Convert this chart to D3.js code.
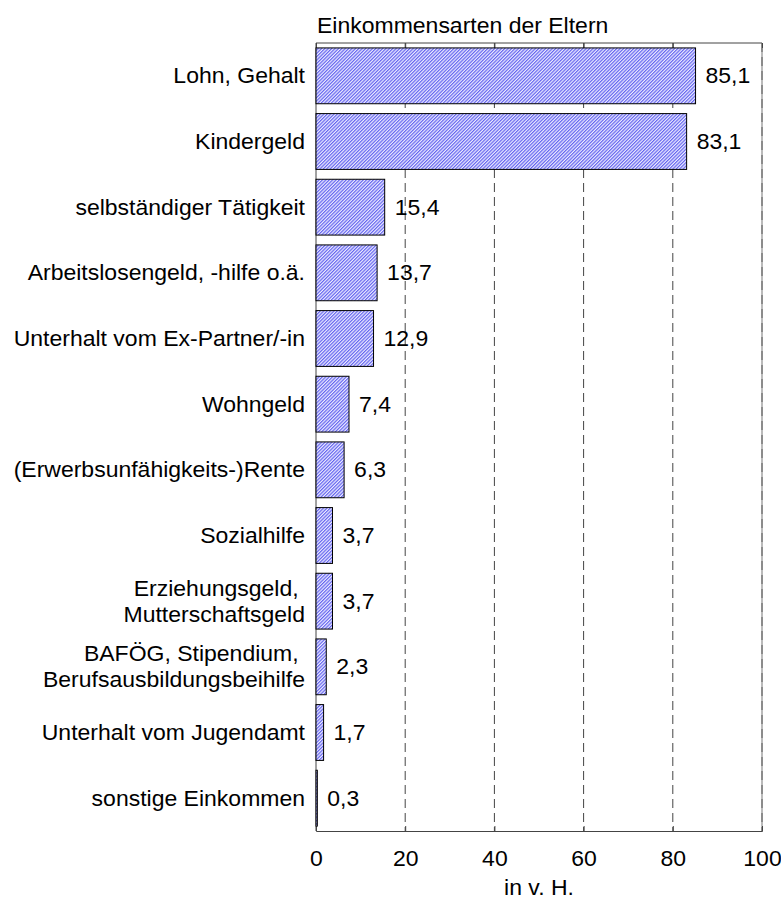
<!DOCTYPE html>
<html>
<head>
<meta charset="utf-8">
<script src="https://cdn.jsdelivr.net/npm/d3@7"></script>
<style>
  body { margin: 0; background: #fff; }
  text { font-family: "Liberation Sans", Arial, sans-serif; fill: #000; }
</style>
</head>
<body>
<div id="chart"></div>
<script>
const categories = [
  ['Lohn, Gehalt'],
  ['Kindergeld'],
  ['selbständiger Tätigkeit'],
  ['Arbeitslosengeld, -hilfe o.ä.'],
  ['Unterhalt vom Ex-Partner/-in'],
  ['Wohngeld'],
  ['(Erwerbsunfähigkeits-)Rente'],
  ['Sozialhilfe'],
  ['Erziehungsgeld,\u00a0', 'Mutterschaftsgeld'],
  ['BAFÖG, Stipendium,\u00a0', 'Berufsausbildungsbeihilfe'],
  ['Unterhalt vom Jugendamt'],
  ['sonstige Einkommen']
];
const values = [85.1, 83.1, 15.4, 13.7, 12.9, 7.4, 6.3, 3.7, 3.7, 2.3, 1.7, 0.3];
const xTicks = [0, 20, 40, 60, 80, 100];
const title = 'Einkommensarten der Eltern';
const xTitle = 'in v. H.';

const width = 781, height = 907;
const margin = { top: 43, right: 19, bottom: 76, left: 316 };
const w = width - margin.left - margin.right;
const h = height - margin.top - margin.bottom;
const fs = '21.5px';
const sx = 1.07; // text in the original is slightly stretched

const svg = d3.select('#chart').append('svg')
  .attr('width', width)
  .attr('height', height);

const defs = svg.append('defs');
const pat = defs.append('pattern')
  .attr('id', 'hatch')
  .attr('patternUnits', 'userSpaceOnUse')
  .attr('width', 2.4)
  .attr('height', 2.4)
  .attr('patternTransform', 'rotate(45)');
pat.append('rect').attr('width', 2.4).attr('height', 2.4).attr('fill', '#ececff');
pat.append('rect').attr('width', 1.2).attr('height', 2.4).attr('fill', '#6464f0');

const g = svg.append('g').attr('transform', `translate(${margin.left},${margin.top})`);

const x = d3.scaleLinear().domain([0, 100]).range([0, w]);
const y = d3.scaleBand().domain(d3.range(categories.length)).range([0, h]).paddingInner(0.15).paddingOuter(0.075);

// gridlines
g.append('g')
  .selectAll('line')
  .data(xTicks.slice(1))
  .enter()
  .append('line')
  .attr('x1', d => x(d)).attr('x2', d => x(d))
  .attr('y1', 0).attr('y2', h)
  .attr('stroke', '#444')
  .attr('stroke-dasharray', '9,5');

// frame
g.append('path')
  .attr('d', `M0,${h}V0H${w}`)
  .attr('fill', 'none')
  .attr('stroke', '#444');
g.append('line')
  .attr('x1', w).attr('x2', w).attr('y1', 0).attr('y2', h)
  .attr('stroke', '#777');

// bottom axis
const xAxis = g.append('g')
  .attr('transform', `translate(0,${h})`)
  .call(d3.axisBottom(x).tickValues(xTicks).tickSize(-5).tickFormat(d3.format('d')));
xAxis.select('.domain').attr('stroke', '#444');
xAxis.selectAll('.tick line').attr('stroke', '#444');
xAxis.selectAll('text')
  .attr('y', 35).attr('dy', 0)
  .attr('transform', `scale(${sx},1)`)
  .style('font-size', fs)
  .style('font-family', '"Liberation Sans", Arial, sans-serif')
  .attr('fill', '#000');

// top ticks
g.append('g')
  .call(d3.axisTop(x).tickValues(xTicks).tickSize(-5).tickFormat(''))
  .call(s => s.select('.domain').remove())
  .selectAll('.tick line').attr('stroke', '#444');

// bars
g.append('g')
  .selectAll('rect')
  .data(values)
  .enter()
  .append('rect')
  .attr('x', x(0))
  .attr('y', (d, i) => y(i))
  .attr('width', d => x(d) - x(0))
  .attr('height', y.bandwidth())
  .attr('fill', 'url(#hatch)')
  .attr('stroke', '#000')
  .attr('stroke-width', 1);

// value labels
g.append('g')
  .selectAll('text')
  .data(values)
  .enter()
  .append('text')
  .attr('transform', (d, i) => `translate(${x(d) + 10},${y(i) + y.bandwidth() / 2}) scale(${sx},1)`)
  .attr('dy', '0.35em')
  .style('font-size', fs)
  .text(d => d3.format('.1f')(d).replace('.', ','));

// category labels
const lh = 26;
const labels = g.append('g')
  .selectAll('text')
  .data(categories)
  .enter()
  .append('text')
  .attr('text-anchor', 'end')
  .attr('transform', (d, i) => `translate(-11,${y(i) + y.bandwidth() / 2}) scale(${sx},1)`)
  .style('font-size', fs);
labels.each(function (d) {
  const t = d3.select(this);
  d.forEach((line, j) => {
    t.append('tspan')
      .attr('x', 0)
      .attr('dy', j === 0 ? (0.35 * 21.5 - (d.length - 1) * lh / 2) : lh)
      .text(line);
  });
});

// title
svg.append('text')
  .attr('transform', `translate(${margin.left + 1},33) scale(${sx},1)`)
  .style('font-size', fs)
  .text(title);

// x axis title
svg.append('text')
  .attr('transform', `translate(${margin.left + x(50)},895) scale(${sx},1)`)
  .attr('text-anchor', 'middle')
  .style('font-size', fs)
  .text(xTitle);
</script>
</body>
</html>
